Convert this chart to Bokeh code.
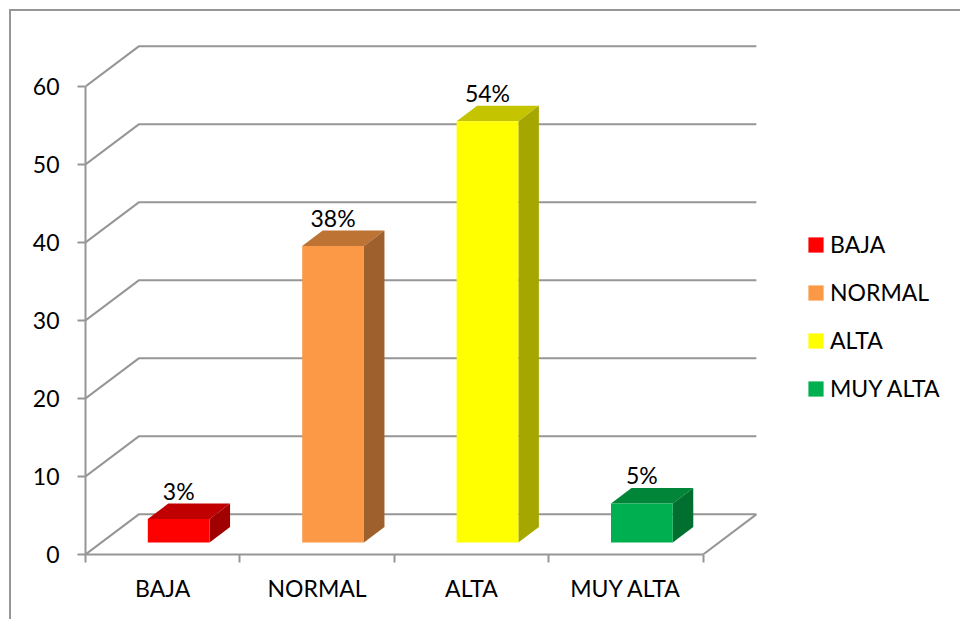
from bokeh.embed import file_html
from bokeh.resources import INLINE
from bokeh.plotting import figure
from bokeh.models import (FixedTicker, Legend, LegendItem, Range1d)
from bokeh.core.properties import value

categories = ["BAJA", "NORMAL", "ALTA", "MUY ALTA"]
values = [3, 38, 54, 5]
labels = ["3%", "38%", "54%", "5%"]
y_ticks = [0, 10, 20, 30, 40, 50, 60]
front_colors = ["#FF0000", "#FB9946", "#FFFF00", "#00B050"]
top_colors = ["#C00000", "#BC7334", "#C4C400", "#008539"]
side_colors = ["#A00000", "#9E602C", "#A6A600", "#006F2F"]
GRID = "#969696"
FONT = "Lato"
FS = "23px"

# 3-D projection expressed in axis units
DX, DY = 0.345, 5.15          # depth of the floor
BAR_W = 0.40                  # bar width
F0, FD = 0.30, 0.385          # bar start / depth as a share of floor depth

W, H = 960, 619
L, B = 85, 65
PX = 154.4
PY = 7.8

border_css = ("linear-gradient(#969696,#969696) 9px 9px / 100% 2px no-repeat, "
              "linear-gradient(#969696,#969696) 9px 9px / 2px 100% no-repeat")

p = figure(width=W, height=H, output_backend="svg", toolbar_location=None,
           x_range=Range1d(0, (W - L) / PX), y_range=Range1d(0, (H - B) / PY),
           min_border_left=L, min_border_bottom=B, min_border_top=0, min_border_right=0,
           border_fill_color=None, background_fill_color=None,
           styles={"background": border_css})
p.outline_line_color = None
p.grid.visible = False

# walls
xs = [[0, DX, 4 + DX] for _ in y_ticks] + [[4, 4 + DX]]
ys = [[v, v + DY, v + DY] for v in y_ticks] + [[0, DY]]
p.multi_line(xs, ys, line_color=GRID, line_width=2)

items = []
for i, (c, v) in enumerate(zip(categories, values)):
    x0 = i + 0.5 - BAR_W / 2 + F0 * DX
    x1 = x0 + BAR_W
    b = F0 * DY
    t = b + v
    dx, dy = FD * DX, FD * DY
    p.patch([x0, x1, x1 + dx, x0 + dx], [t, t, t + dy, t + dy],
            fill_color=top_colors[i], line_color=None)
    p.patch([x1, x1 + dx, x1 + dx, x1], [b, b + dy, t + dy, t],
            fill_color=side_colors[i], line_color=None)
    r = p.quad(left=x0, right=x1, bottom=b, top=t, fill_color=front_colors[i], line_color=None)
    items.append(LegendItem(label=c, renderers=[r]))
    p.text(x=[(x0 + x1) / 2], y=[t + dy], text=[labels[i]], text_align="center",
           text_baseline="alphabetic", y_offset=-13, text_font=value(FONT),
           text_font_size=FS, text_color="#000000")

# axes
ya = p.yaxis[0]
ya.ticker = FixedTicker(ticks=y_ticks)
ya.bounds = (0, 60)
ya.axis_line_color = GRID
ya.axis_line_width = 2
ya.major_tick_line_color = GRID
ya.major_tick_line_width = 2
ya.major_tick_out = 8
ya.major_tick_in = 0
ya.minor_tick_line_color = None
ya.major_label_standoff = 18
ya.major_label_text_font = FONT
ya.major_label_text_font_size = FS
ya.major_label_text_color = "#000000"

xa = p.xaxis[0]
xa.ticker = FixedTicker(ticks=[i + 0.5 for i in range(4)], minor_ticks=[0, 1, 2, 3, 4])
xa.major_label_overrides = {i + 0.5: c for i, c in enumerate(categories)}
xa.bounds = (0, 4)
xa.axis_line_color = GRID
xa.axis_line_width = 2
xa.major_tick_line_color = None
xa.major_tick_out = 0
xa.major_tick_in = 0
xa.minor_tick_line_color = GRID
xa.minor_tick_line_width = 2
xa.minor_tick_out = 8
xa.minor_tick_in = 0
xa.major_label_standoff = 11
xa.major_label_text_font = FONT
xa.major_label_text_font_size = FS
xa.major_label_text_color = "#000000"

legend = Legend(items=items, location=(721, 152), orientation="vertical",
                glyph_width=19, glyph_height=19, spacing=20, padding=0, margin=0,
                label_standoff=5, label_text_font=FONT, label_text_font_size=FS,
                label_text_color="#000000", border_line_color=None,
                background_fill_alpha=0)
p.add_layout(legend, "center")

open("out.html", "w").write(file_html(p, INLINE))
